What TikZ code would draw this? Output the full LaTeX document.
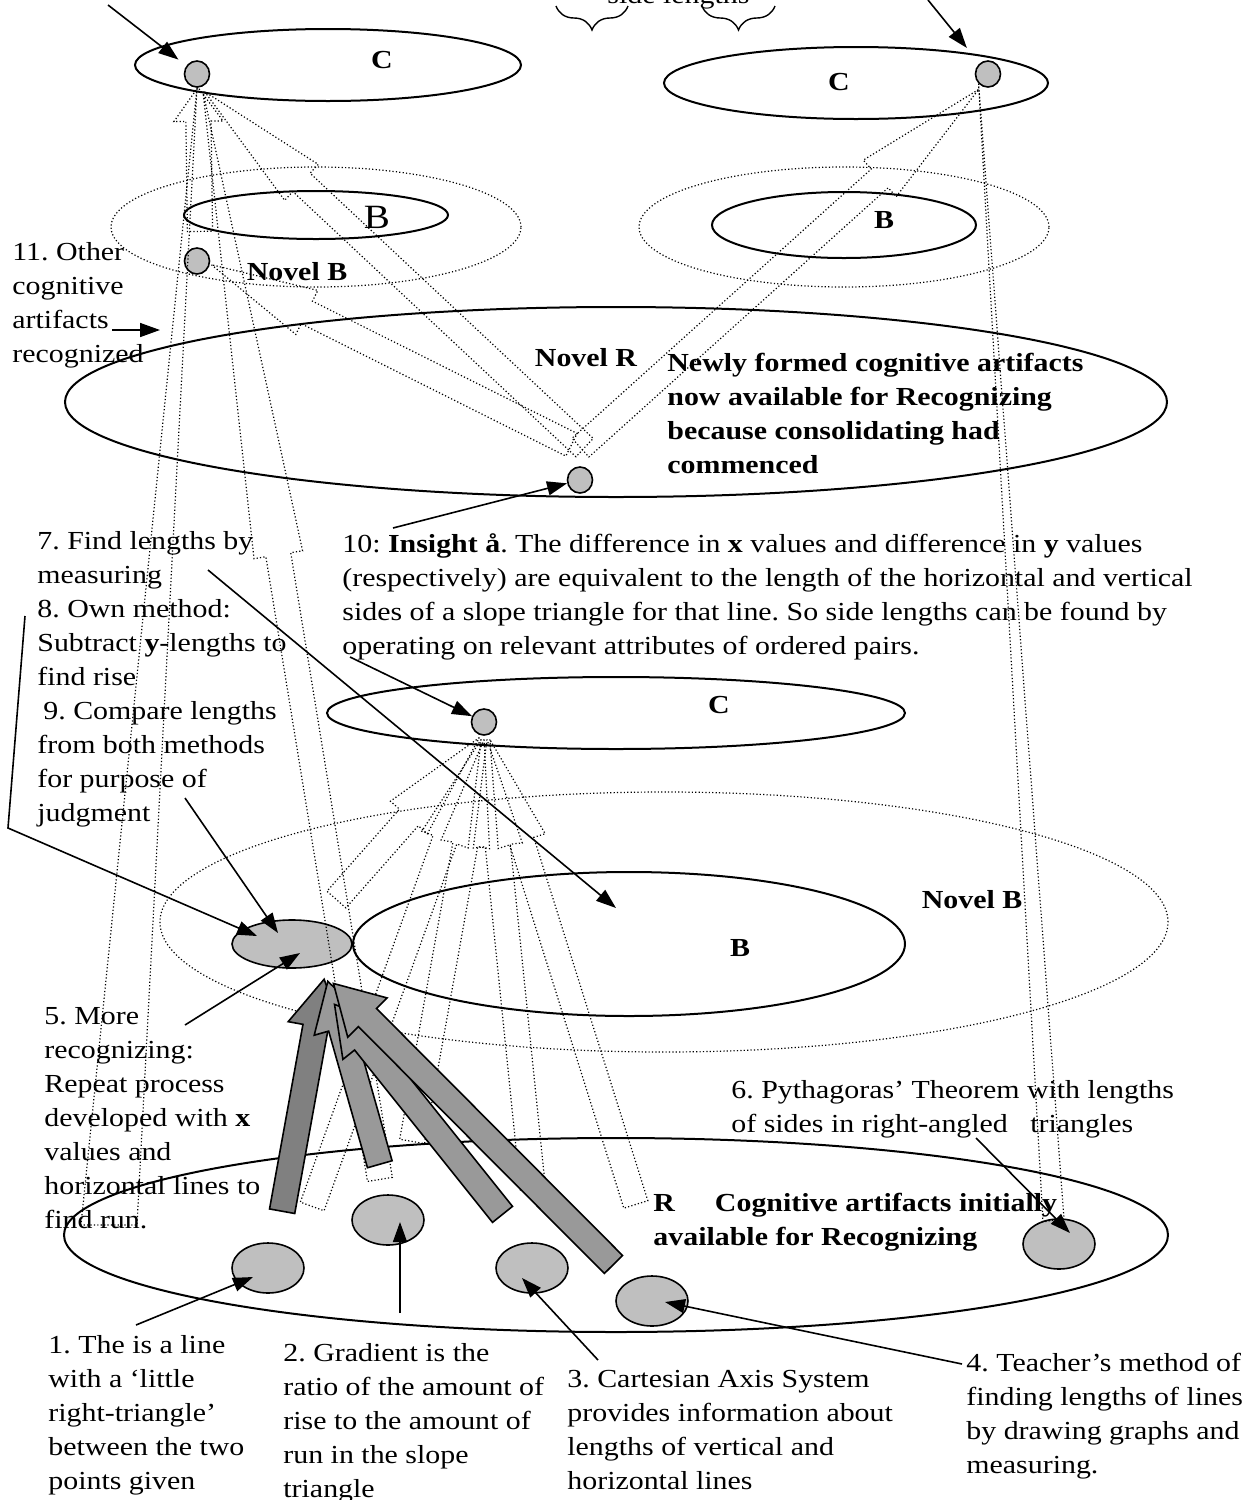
\documentclass[tikz,border=0pt]{standalone}
\usepackage{fontspec}
\setmainfont{Liberation Serif}[FakeStretch=1.15]
\usetikzlibrary{shapes.geometric, shapes.arrows, arrows.meta, calc, decorations.pathreplacing}

\begin{document}
\frenchspacing
\begin{tikzpicture}[x=0.5pt, y=-0.5pt, font=\fontsize{13}{17}\selectfont, >={Triangle[length=10pt, width=7pt]},
  dots/.style={line width=0.6pt, dash pattern=on 0.6pt off 1.1pt},
  ring/.style={draw, ellipse, line width=1pt, inner sep=0pt},
  halo/.style={draw, ellipse, dots, inner sep=0pt},
  item/.style={draw, ellipse, fill=gray!50, line width=0.8pt, inner sep=0pt, minimum width=36pt, minimum height=25pt},
  spot/.style={draw, ellipse, fill=gray!50, line width=0.8pt, inner sep=0pt, minimum width=12.5pt, minimum height=13pt},
  hollow/.style={single arrow, draw, dots, inner xsep=0pt, inner ysep=6pt, single arrow head extend=6pt,
    single arrow tip angle=26, sloped, allow upside down, pos=0, anchor=tail},
  push/.style={single arrow, draw, line width=0.8pt, fill=gray!80, inner xsep=0pt, inner ysep=6pt,
    single arrow head extend=7.5pt, single arrow tip angle=60, sloped, allow upside down, pos=0, anchor=tail},
  note/.style={align=left, anchor=north west, inner sep=0pt},
  tag/.style={font=\fontsize{13}{17}\selectfont\bfseries},
  link/.style={->, line width=0.8pt}]
\useasboundingbox (0,0) rectangle (1251,1500);
% the four rings of the model
\node[ring, minimum width=193pt, minimum height=36pt] (cl) at (328,65) {};
\node[ring, minimum width=192pt, minimum height=36pt] (cr) at (856,83) {};
\node[halo, minimum width=205pt, minimum height=60pt] (bl) at (316,227) {};
\node[ring, minimum width=132pt, minimum height=24pt] (blo) at (316,215) {};
\node[halo, minimum width=205pt, minimum height=60pt] (br) at (844,227) {};
\node[ring, minimum width=132pt, minimum height=33pt] (bro) at (844,225) {};
\node[ring, minimum width=551pt, minimum height=95pt] (nr) at (616,402) {};
\node[ring, minimum width=289pt, minimum height=36pt] (cm) at (616,713) {};
\node[halo, minimum width=504pt, minimum height=130pt] (bm) at (664,922) {};
\node[ring, minimum width=276pt, minimum height=72pt] (bmo) at (629,944) {};
\node[ring, minimum width=552pt, minimum height=97pt] (rr) at (616,1235) {};
\node[tag] (lcl) at (382,60) {C};
\node[tag] (lcr) at (839,82) {C};
\node[font=\fontsize{17}{20}\selectfont] (lbl) at (377,217) {B};
\node[tag] (lbr) at (884,220) {B};
\node[tag] (lnb) at (297,272) {Novel B};
\node[tag] (lnr) at (586,358) {Novel R};
\node[tag] (lcm) at (719,705) {C};
\node[tag] (lnb2) at (972,900) {Novel B};
\node[tag] (lbm) at (740,948) {B};
% cognitive artifacts
\node[spot] (pcl) at (197,74) {};
\node[spot] (pcr) at (988,74) {};
\node[spot] (pnb) at (197,261) {};
\node[spot] (pnr) at (580,480) {};
\node[spot] (pcm) at (484,722) {};
\node[item, minimum width=60pt, minimum height=24pt] (g) at (292,944) {};
\node[item] (r1) at (268,1268) {};
\node[item] (r2) at (388,1220) {};
\node[item] (r3) at (532,1268) {};
\node[item] (r4) at (652,1301) {};
\node[item] (r5) at (1059,1244) {};
% consolidating: dotted hollow arrows
\coordinate (h1s) at (200,232); \coordinate (h1t) at (198,88);
\coordinate (h2s) at (585,448); \coordinate (h2t) at (205,92);
\coordinate (h3s) at (380,1180); \coordinate (h3t) at (203,92);
\coordinate (h5s) at (572,445); \coordinate (h5t) at (212,265);
\coordinate (h6s) at (580,448); \coordinate (h6t) at (978,90);
\coordinate (m1s) at (336,900); \coordinate (m1t) at (479,738);
\coordinate (m2s) at (312,1207); \coordinate (m2t) at (481,740);
\coordinate (m4s) at (412,1142); \coordinate (m4t) at (484,740);
\coordinate (m5s) at (533,1190); \coordinate (m5t) at (487,740);
\coordinate (m6s) at (636,1205); \coordinate (m6t) at (490,740);
\path let \p1=($(h1t)-(h1s)$), \n1={veclen(\x1,\y1)} in (h1s) -- node[hollow, single arrow tip angle=72, minimum height=\n1] (h1) {} (h1t);
\path let \p1=($(h2t)-(h2s)$), \n1={veclen(\x1,\y1)} in (h2s) -- node[hollow, single arrow tip angle=21, minimum height=\n1] (h2) {} (h2t);
\path let \p1=($(h3t)-(h3s)$), \n1={veclen(\x1,\y1)} in (h3s) -- node[hollow, single arrow tip angle=6, minimum height=\n1] (h3) {} (h3t);
\path let \p1=($(h5t)-(h5s)$), \n1={veclen(\x1,\y1)} in (h5s) -- node[hollow, minimum height=\n1] (h5) {} (h5t);
\path let \p1=($(h6t)-(h6s)$), \n1={veclen(\x1,\y1)} in (h6s) -- node[hollow, single arrow tip angle=21, minimum height=\n1] (h6) {} (h6t);
\path let \p1=($(m1t)-(m1s)$), \n1={veclen(\x1,\y1)} in (m1s) -- node[hollow, minimum height=\n1] (m1) {} (m1t);
\path let \p1=($(m2t)-(m2s)$), \n1={veclen(\x1,\y1)} in (m2s) -- node[hollow, minimum height=\n1] (m2) {} (m2t);
\path let \p1=($(m4t)-(m4s)$), \n1={veclen(\x1,\y1)} in (m4s) -- node[hollow, minimum height=\n1] (m4) {} (m4t);
\path let \p1=($(m5t)-(m5s)$), \n1={veclen(\x1,\y1)} in (m5s) -- node[hollow, minimum height=\n1] (m5) {} (m5t);
\path let \p1=($(m6t)-(m6s)$), \n1={veclen(\x1,\y1)} in (m6s) -- node[hollow, minimum height=\n1] (m6) {} (m6t);
\draw[dots] (pcl.south) -- (81,1225) -- (137,1225) -- cycle;
\draw[dots] (pcr.south west) -- (1043,1222) -- (1064,1218) -- cycle;
% recognizing feeds the new building-with artifact
\coordinate (aas) at (282,1212); \coordinate (aat) at (324,980);
\coordinate (abs) at (380,1165); \coordinate (abt) at (328,982);
\coordinate (acs) at (503,1215); \coordinate (act) at (335,1005);
\coordinate (ads) at (614,1265); \coordinate (adt) at (334,984);
\path let \p1=($(aat)-(aas)$), \n1={veclen(\x1,\y1)} in (aas) -- node[push, fill=gray, minimum height=\n1] (aa) {} (aat);
\path let \p1=($(abt)-(abs)$), \n1={veclen(\x1,\y1)} in (abs) -- node[push, minimum height=\n1] (ab) {} (abt);
\path let \p1=($(act)-(acs)$), \n1={veclen(\x1,\y1)} in (acs) -- node[push, minimum height=\n1] (ac) {} (act);
\path let \p1=($(adt)-(ads)$), \n1={veclen(\x1,\y1)} in (ads) -- node[push, minimum height=\n1] (ad) {} (adt);
% texts
\node[anchor=base west, inner sep=0pt] (side) at (607,3) {side lengths};
\draw[line width=0.7pt, decorate, decoration={brace, mirror, amplitude=12pt}] (556,6) -- (628,6);
\draw[line width=0.7pt, decorate, decoration={brace, mirror, amplitude=12pt}] (702,6) -- (775,6);
\node[note] (t11) at (12,242) {11. Other\\cognitive\\artifacts\\recognized};
\node[note, font=\fontsize{13}{17}\selectfont\bfseries] (tnew) at (667,353) {Newly formed cognitive artifacts\\now available for Recognizing\\because consolidating had\\commenced};
\node[note] (t7) at (37,531) {7. Find lengths by\\measuring\\8. Own method:\\Subtract \textbf{y}-lengths to\\find rise\\\hspace{3pt}9. Compare lengths\\from both methods\\for purpose of\\judgment};
\node[note] (t10) at (342,533) {10: \textbf{Insight å}. The difference in \textbf{x} values and difference in \textbf{y} values\\(respectively) are equivalent to the length of the horizontal and vertical\\sides of a slope triangle for that line. So side lengths can be found by\\operating on relevant attributes of ordered pairs.};
\node[note] (t5) at (44,1007) {5. More\\recognizing:\\Repeat process\\developed with \textbf{x}\\values and\\horizontal lines to\\find run.};
\node[note] (t6) at (731,1080) {6. Pythagoras' Theorem with lengths\\of sides in right-angled\ \ \ triangles};
\node[note, font=\fontsize{13}{17}\selectfont\bfseries] (tr) at (653,1193) {R\hspace{20pt}Cognitive artifacts initially\\available for Recognizing};
\node[note] (t1) at (48,1335) {1. The is a line\\with a `little\\right-triangle'\\between the two\\points given};
\node[note] (t2) at (283,1343) {2. Gradient is the\\ratio of the amount of\\rise to the amount of\\run in the slope\\triangle};
\node[note] (t3) at (567,1370) {3. Cartesian Axis System\\provides information about\\lengths of vertical and\\horizontal lines};
\node[note] (t4) at (966,1353) {4. Teacher's method of\\finding lengths of lines\\by drawing graphs and\\measuring.};
% pointers from the notes
\coordinate (stl) at (108,5);
\coordinate (str) at (928,0);
\coordinate (s11) at (112,330); \coordinate (e11) at (160,330);
\coordinate (s10) at (393,528);
\coordinate (sop) at (350,657);
\coordinate (s7) at (208,570);
\coordinate (s8) at (25,616); \coordinate (k8) at (8,828);
\coordinate (s9) at (185,798);
\coordinate (s5) at (185,1025);
\coordinate (s1) at (136,1325);
\coordinate (s2) at (400,1313);
\coordinate (s3) at (598,1360);
\coordinate (s4) at (962,1364);
\coordinate (s6) at (976,1138);
\draw[link, shorten >=5pt] (stl) -- (pcl);
\draw[link, shorten >=10pt] (str) -- (pcr);
\draw[link] (s11) -- (e11);
\draw[link] (s10) -- (pnr);
\draw[link] (sop) -- (pcm);
\draw[link] (s7) -- ($(bmo.center)+(-13,-36)$);
\draw[link] (s8) -- (k8) -- ($(g.center)+(-35,-8)$);
\draw[link] (s9) -- ($(g.center)+(-14,-11)$);
\draw[link] (s5) -- ($(g.center)+(8,9)$);
\draw[link] (s1) -- ($(r1.center)+(-15,9)$);
\draw[link] (s2) -- ($(r2.center)+(12,2)$);
\draw[link] (s3) -- ($(r3.center)+(-10,10)$);
\draw[link] (s4) -- ($(r4.center)+(13,1)$);
\draw[link] (s6) -- ($(r5.center)+(11,-11)$);
\end{tikzpicture}
\end{document}
